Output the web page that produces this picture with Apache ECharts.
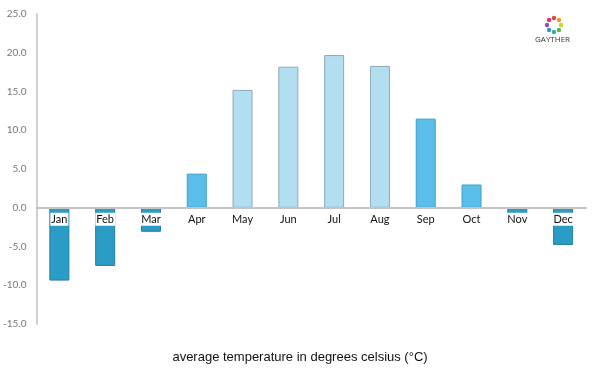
<!DOCTYPE html>
<html>
<head>
<meta charset="utf-8">
<script src="https://cdn.jsdelivr.net/npm/echarts@6/dist/echarts.min.js"></script>
<style>
  html, body { margin: 0; padding: 0; background: #fff; }
  #chart { width: 600px; height: 375px; }
</style>
</head>
<body>
<div id="chart"></div>
<script>
// data
var months = ['Jan', 'Feb', 'Mar', 'Apr', 'May', 'Jun', 'Jul', 'Aug', 'Sep', 'Oct', 'Nov', 'Dec'];
var temps = [-9.4, -7.5, -3.1, 4.4, 15.2, 18.2, 19.7, 18.3, 11.5, 3.0, -0.8, -4.8];
var yTicks = [-15, 25, 5]; // min, max, interval

// bar colour by temperature band
function barStyle(v) {
    if (v < 0) return { color: '#2a9cc5', borderColor: '#1f7fa3', borderWidth: 1 };
    if (v < 12) return { color: '#5bbee8', borderColor: '#3a9fcc', borderWidth: 1 };
    return { color: '#b1dff1', borderColor: '#8ea9b5', borderWidth: 1 };
}

var chart = echarts.init(document.getElementById('chart'));

var gridTop = 14, gridBottom = 51, plotH = 375 - gridTop - gridBottom;
// move the category axis up to the zero line
var zeroOffset = -plotH * (0 - yTicks[0]) / (yTicks[1] - yTicks[0]);

// small ring logo top right
var logoColors = ['#e8452c', '#f39a1e', '#c9d42b', '#5cb648', '#2db4a6', '#3a8fd6', '#8a4fb8', '#e0307a'];
var logo = [];
for (var i = 0; i < logoColors.length; i++) {
    var a = i / logoColors.length * Math.PI * 2 - Math.PI / 2;
    logo.push({
        type: 'circle',
        shape: { cx: 554 + Math.cos(a) * 7, cy: 25 + Math.sin(a) * 7, r: 2.2 },
        style: { fill: logoColors[i] }
    });
}
logo.push({
    type: 'text', left: 535, top: 36,
    style: { text: 'GAYTHER', fill: '#333', font: '8px "Open Sans", sans-serif' }
});

var option = {
    animation: false,
    grid: { left: 36, right: 14, top: gridTop, bottom: gridBottom },
    title: {
        text: 'average temperature in degrees celsius (°C)',
        left: 'center',
        top: 346,
        textStyle: { fontFamily: 'Liberation Sans, Arial', fontSize: 13, fontWeight: 'normal', color: '#111' }
    },
    xAxis: {
        type: 'category',
        data: months,
        z: 5,
        offset: zeroOffset,
        axisLine: { onZero: false, lineStyle: { color: '#c4c4c4', width: 2 } },
        axisTick: { show: false },
        axisLabel: {
            color: '#111',
            fontSize: 11,
            fontFamily: 'Lato, "Open Sans", sans-serif',
            backgroundColor: '#fff',
            padding: [1, 1],
            margin: 5
        }
    },
    yAxis: {
        type: 'value',
        min: yTicks[0],
        max: yTicks[1],
        interval: yTicks[2],
        splitLine: { show: false },
        axisTick: { show: false },
        axisLine: { show: true, lineStyle: { color: '#d0d0d0', width: 2 } },
        axisLabel: {
            color: '#777',
            fontSize: 10,
            fontFamily: 'Lato, "Open Sans", sans-serif',
            margin: 10,
            formatter: function (v) { return v.toFixed(1); }
        }
    },
    series: [{
        type: 'bar',
        barWidth: 20,
        data: temps.map(function (v) {
            return { value: v, itemStyle: barStyle(v) };
        })
    }],
    graphic: logo
};

chart.setOption(option);
</script>
</body>
</html>
